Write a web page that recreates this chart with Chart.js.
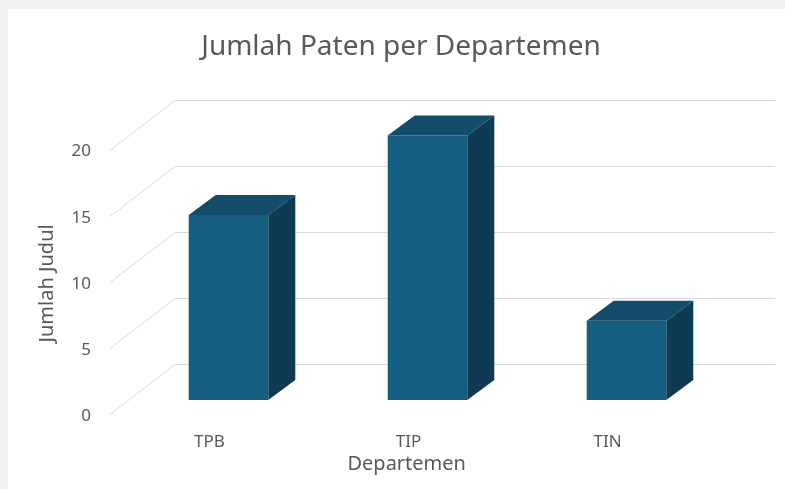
<!DOCTYPE html>
<html lang="id">
<head>
<meta charset="utf-8">
<title>Jumlah Paten per Departemen</title>
<script src="https://cdn.jsdelivr.net/npm/chart.js@4.4.1/dist/chart.umd.min.js"></script>
<style>
    html, body { margin: 0; padding: 0; background: #f1f1f1; overflow: hidden; }
    #wrap { position: absolute; left: 8px; top: 9px; width: 777px; height: 480px; background: #ffffff; }
</style>
</head>
<body>
<div id="wrap"><canvas id="patenChart"></canvas></div>
<script>
const DEPARTEMEN = ['TPB', 'TIP', 'TIN'];
const JUMLAH_JUDUL = [14, 20, 6];
const Y_TICKS = [0, 5, 10, 15, 20];

const FONT = '"Noto Sans", sans-serif';
const TEXT_COLOR = '#595959';
const GRID_COLOR = '#d9d9d9';
const BAR_FRONT = '#165e80';
const BAR_TOP = '#134c69';
const BAR_SIDE = '#0e3b52';

// Kedalaman efek 3D (px)
const BAR_DEPTH = {dx: 27, dy: -20};
const WALL_DEPTH = {dx: 65, dy: -50};
const BACK_SHIFT = -36;

// Judul sumbu digeser sedikit (spasi di belakang teks)
const X_TITLE = 'Departemen' + ' '.repeat(8);
const Y_TITLE = 'Jumlah Judul' + ' '.repeat(6);

// Dinding belakang: garis grid + garis miring di lantai kiri
const wallPlugin = {
    id: 'wall3d',
    beforeDatasetsDraw(chart) {
        const {ctx, chartArea, scales} = chart;
        const backLeft = chartArea.left + 46;
        const backRight = chartArea.right + 49;
        const frontLeft = backLeft - WALL_DEPTH.dx;

        ctx.save();
        ctx.strokeStyle = GRID_COLOR;
        ctx.lineWidth = 1;
        Y_TICKS.forEach((value) => {
            const backY = Math.round(scales.y.getPixelForValue(value) + BACK_SHIFT) + 0.5;
            const frontY = backY - WALL_DEPTH.dy;
            ctx.beginPath();
            ctx.moveTo(frontLeft, frontY);
            ctx.lineTo(backLeft, backY);
            ctx.lineTo(backRight, backY);
            ctx.stroke();
        });
        ctx.restore();
    },
};

// Sisi atas dan samping batang
const bar3dPlugin = {
    id: 'bar3d',
    afterDatasetsDraw(chart) {
        const {ctx} = chart;
        const {dx, dy} = BAR_DEPTH;

        ctx.save();
        chart.getDatasetMeta(0).data.forEach((bar) => {
            const {x, y, base, width} = bar.getProps(['x', 'y', 'base', 'width'], true);
            const x0 = x - width / 2;
            const x1 = x + width / 2;

            ctx.fillStyle = BAR_TOP;
            ctx.beginPath();
            ctx.moveTo(x0, y);
            ctx.lineTo(x0 + dx, y + dy);
            ctx.lineTo(x1 + dx, y + dy);
            ctx.lineTo(x1, y);
            ctx.closePath();
            ctx.fill();

            ctx.fillStyle = BAR_SIDE;
            ctx.beginPath();
            ctx.moveTo(x1, y);
            ctx.lineTo(x1 + dx, y + dy);
            ctx.lineTo(x1 + dx, base + dy);
            ctx.lineTo(x1, base);
            ctx.closePath();
            ctx.fill();
        });
        ctx.restore();
    },
};

const ctx = document.getElementById('patenChart').getContext('2d');

new Chart(ctx, {
    type: 'bar',
    data: {
        labels: DEPARTEMEN,
        datasets: [
            {
                label: 'Jumlah Judul',
                data: JUMLAH_JUDUL,
                backgroundColor: BAR_FRONT,
                borderWidth: 0,
                barPercentage: 0.4,
                categoryPercentage: 1,
                clip: false,
            },
        ],
    },
    options: {
        responsive: true,
        maintainAspectRatio: false,
        animation: false,
        layout: {padding: {left: 9, right: 0, top: 0, bottom: 0}},
        plugins: {
            legend: {display: false},
            tooltip: {enabled: false},
            title: {
                display: true,
                text: 'Jumlah Paten per Departemen',
                color: TEXT_COLOR,
                font: {family: FONT, size: 28, weight: 'normal'},
                padding: {top: 21, bottom: 72},
            },
        },
        scales: {
            x: {
                grid: {display: false, drawTicks: false},
                border: {display: false},
                ticks: {color: TEXT_COLOR, font: {family: FONT, size: 17}, padding: 32, labelOffset: -19},
                title: {
                    display: true,
                    text: X_TITLE,
                    color: TEXT_COLOR,
                    font: {family: FONT, size: 20},
                    padding: {top: 0, bottom: 13},
                },
                afterFit(scale) {
                    scale.height = 89;
                },
            },
            y: {
                min: 0,
                max: 20,
                afterBuildTicks(scale) {
                    scale.ticks = Y_TICKS.map((value) => ({value}));
                },
                grid: {display: false, drawTicks: false},
                border: {display: false},
                ticks: {color: TEXT_COLOR, font: {family: FONT, size: 17}, padding: 38, labelOffset: 16},
                title: {
                    display: true,
                    text: Y_TITLE,
                    color: TEXT_COLOR,
                    font: {family: FONT, size: 20},
                    padding: {top: 18, bottom: 0},
                },
                afterFit(scale) {
                    scale.width = 112;
                },
            },
            // sumbu kosong di kanan, hanya untuk ruang
            yKanan: {
                position: 'right',
                display: true,
                grid: {display: false, drawTicks: false},
                border: {display: false},
                ticks: {display: false},
                afterFit(scale) {
                    scale.width = 59;
                },
            },
        },
    },
    plugins: [wallPlugin, bar3dPlugin],
});
</script>
</body>
</html>
